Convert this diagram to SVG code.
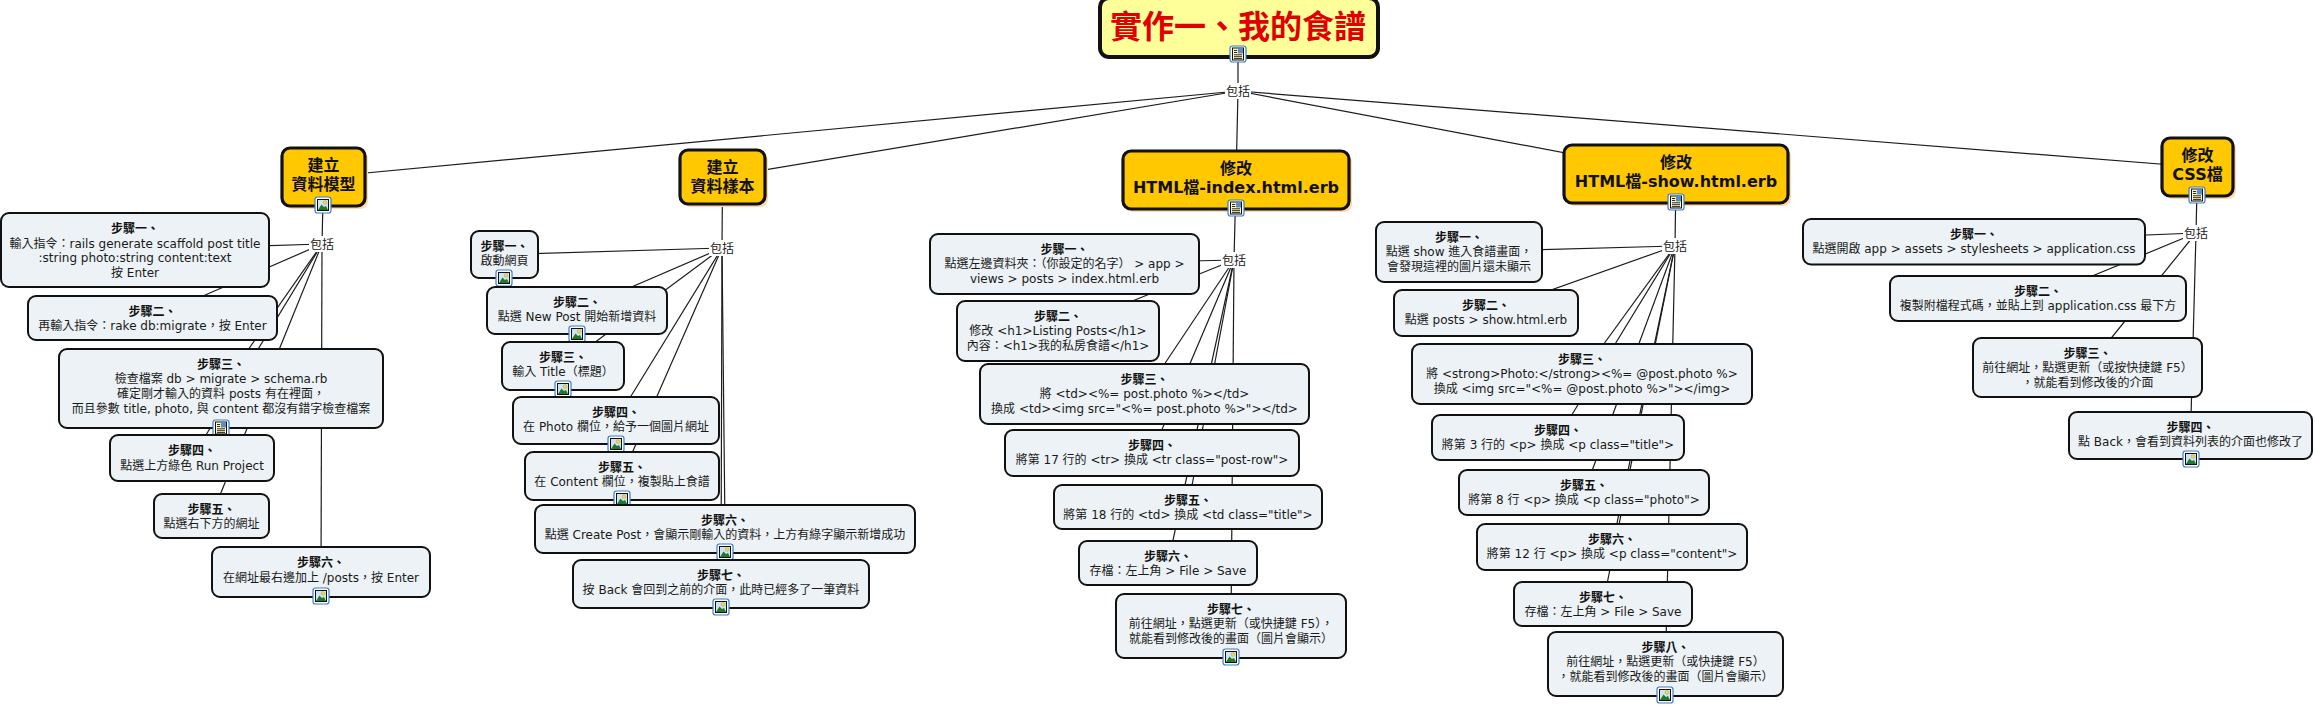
<svg xmlns="http://www.w3.org/2000/svg" width="2315" height="706" viewBox="0 0 2315 706">
<style>
text{font-family:"DejaVu Sans","Noto Sans CJK TC",sans-serif;text-anchor:middle;fill:#1a1a1a;font-size:12px}
.b{font-weight:bold;fill:#111}
.t{font-size:16px;font-weight:bold;fill:#111}
.root{font-size:32px;font-weight:bold;fill:#e00000}
.s{fill:#ecf2f5;stroke:#111;stroke-width:2}
.top{fill:#ffc800;stroke:#111;stroke-width:3.2}
.sh{fill:#ffd9b0}
.c line{stroke:#1c1c1c;stroke-width:1.2}
.lb{fill:#fff}
</style>
<defs>
<g id="pic"><rect x="-8" y="-8" width="16" height="16" rx="2.5" fill="#fff" stroke="#3d7cc9" stroke-width="1.2"/><rect x="-5.5" y="-5.5" width="11" height="11" fill="#cfe3f5" stroke="#111" stroke-width="1"/><circle cx="2" cy="-2.5" r="1.8" fill="#f7d94c" stroke="#a08820" stroke-width=".4"/><path d="M-5 5 L-1.5 -0.5 L1 2 L3 1 L5 5Z" fill="#1c7a2a"/></g>
<g id="doc"><rect x="-8" y="-8" width="16" height="16" rx="2.5" fill="#fff" stroke="#3d7cc9" stroke-width="1.2"/><rect x="-5.5" y="-6" width="11" height="12" fill="#fff8c8" stroke="#111" stroke-width="1"/><rect x="0" y="-5.5" width="5" height="5" fill="#5a8fc4"/><path d="M-4 -3.5H-.8M-4 -1.5H-.8M-4 .8H4M-4 2.7H4M-4 4.6H4" stroke="#111" stroke-width=".9" fill="none"/></g>
</defs>
<g id="connectors" class="c">
<line x1="1238" y1="28" x2="1238" y2="91"/>
<line x1="1238" y1="91" x2="323.5" y2="177"/>
<line x1="1238" y1="91" x2="722.5" y2="177"/>
<line x1="1238" y1="91" x2="1236" y2="180"/>
<line x1="1238" y1="91" x2="1676" y2="174"/>
<line x1="1238" y1="91" x2="2197.5" y2="167"/>
<line x1="323.5" y1="177" x2="322" y2="244"/>
<line x1="322" y1="244" x2="135" y2="250"/>
<line x1="322" y1="244" x2="152.5" y2="318"/>
<line x1="322" y1="244" x2="221" y2="388.5"/>
<line x1="322" y1="244" x2="192" y2="458"/>
<line x1="322" y1="244" x2="211.5" y2="516"/>
<line x1="322" y1="244" x2="321" y2="572"/>
<line x1="722.5" y1="177" x2="722" y2="248"/>
<line x1="722" y1="248" x2="504.5" y2="254.5"/>
<line x1="722" y1="248" x2="577" y2="310.5"/>
<line x1="722" y1="248" x2="563" y2="366"/>
<line x1="722" y1="248" x2="616" y2="420.5"/>
<line x1="722" y1="248" x2="622" y2="476"/>
<line x1="722" y1="248" x2="725" y2="529"/>
<line x1="722" y1="248" x2="721" y2="584"/>
<line x1="1236" y1="180" x2="1234" y2="260"/>
<line x1="1234" y1="260" x2="1064.5" y2="264"/>
<line x1="1234" y1="260" x2="1058" y2="331"/>
<line x1="1234" y1="260" x2="1144.5" y2="394"/>
<line x1="1234" y1="260" x2="1152" y2="453"/>
<line x1="1234" y1="260" x2="1188" y2="507"/>
<line x1="1234" y1="260" x2="1168" y2="563"/>
<line x1="1234" y1="260" x2="1231" y2="626"/>
<line x1="1676" y1="174" x2="1675" y2="246"/>
<line x1="1675" y1="246" x2="1459" y2="252"/>
<line x1="1675" y1="246" x2="1486" y2="313"/>
<line x1="1675" y1="246" x2="1582" y2="374"/>
<line x1="1675" y1="246" x2="1558" y2="437.5"/>
<line x1="1675" y1="246" x2="1584" y2="492.5"/>
<line x1="1675" y1="246" x2="1612" y2="547"/>
<line x1="1675" y1="246" x2="1603" y2="604"/>
<line x1="1675" y1="246" x2="1665.5" y2="664"/>
<line x1="2197.5" y1="167" x2="2196" y2="233"/>
<line x1="2196" y1="233" x2="1974" y2="242"/>
<line x1="2196" y1="233" x2="2038" y2="298.5"/>
<line x1="2196" y1="233" x2="2087.5" y2="367.5"/>
<line x1="2196" y1="233" x2="2190.5" y2="435.5"/>
<rect class="lb" x="1225" y="83" width="26" height="16"/><text x="1238" y="95.5">包括</text>
<rect class="lb" x="309" y="236" width="26" height="16"/><text x="322" y="248.5">包括</text>
<rect class="lb" x="709" y="240" width="26" height="16"/><text x="722" y="252.5">包括</text>
<rect class="lb" x="1221" y="252" width="26" height="16"/><text x="1234" y="264.5">包括</text>
<rect class="lb" x="1662" y="238" width="26" height="16"/><text x="1675" y="250.5">包括</text>
<rect class="lb" x="2183" y="225" width="26" height="16"/><text x="2196" y="237.5">包括</text>
</g>
<g id="root"><rect x="1100" y="-2" width="278" height="59" rx="9" fill="#ffff99" stroke="#111" stroke-width="4"/><text class="root" x="1238" y="38">實作一、我的食譜</text><use href="#doc" x="1238" y="54"/></g>
<g id="topicA"><rect class="sh" x="285" y="151" width="83" height="58" rx="8"/><rect class="top" x="282" y="148" width="83" height="58" rx="8"/><text class="t"><tspan x="323.5" y="171">建立</tspan><tspan x="323.5" y="190">資料模型</tspan></text><use href="#pic" x="323" y="205"/></g>
<g id="topicB"><rect class="sh" x="683" y="153" width="85" height="54" rx="8"/><rect class="top" x="680" y="150" width="85" height="54" rx="8"/><text class="t"><tspan x="722.5" y="173">建立</tspan><tspan x="722.5" y="192">資料樣本</tspan></text></g>
<g id="topicC"><rect class="sh" x="1126" y="154" width="226" height="58" rx="8"/><rect class="top" x="1123" y="151" width="226" height="58" rx="8"/><text class="t"><tspan x="1236" y="174">修改</tspan><tspan x="1236" y="193">HTML檔-index.html.erb</tspan></text><use href="#doc" x="1236" y="208"/></g>
<g id="topicD"><rect class="sh" x="1567" y="148" width="224" height="58" rx="8"/><rect class="top" x="1564" y="145" width="224" height="58" rx="8"/><text class="t"><tspan x="1676" y="168">修改</tspan><tspan x="1676" y="187">HTML檔-show.html.erb</tspan></text><use href="#doc" x="1676" y="202"/></g>
<g id="topicE"><rect class="sh" x="2165" y="141" width="71" height="58" rx="8"/><rect class="top" x="2162" y="138" width="71" height="58" rx="8"/><text class="t"><tspan x="2197.5" y="161">修改</tspan><tspan x="2197.5" y="180">CSS檔</tspan></text><use href="#doc" x="2197" y="195"/></g>

<g id="a1"><rect class="s" x="1" y="213" width="268" height="74" rx="8"/><text><tspan class="b" x="135" y="233">步驟一、</tspan><tspan x="135" y="247.7">輸入指令：rails generate scaffold post title</tspan><tspan x="135" y="262.4">:string photo:string content:text</tspan><tspan x="135" y="277">按 Enter</tspan></text></g>
<g id="a2"><rect class="s" x="28" y="296" width="249" height="44" rx="8"/><text><tspan class="b" x="152.5" y="315.5">步驟二、</tspan><tspan x="152.5" y="330.2">再輸入指令：rake db:migrate，按 Enter</tspan></text></g>
<g id="a3"><rect class="s" x="59" y="349" width="324" height="79" rx="8"/><text><tspan class="b" x="221" y="368.5">步驟三、</tspan><tspan x="221" y="383.2">檢查檔案 db &gt; migrate &gt; schema.rb</tspan><tspan x="221" y="397.9">確定剛才輸入的資料 posts 有在裡面，</tspan><tspan x="221" y="412.6">而且參數 title, photo, 與 content 都沒有錯字檢查檔案</tspan></text><use href="#doc" x="221" y="428"/></g>
<g id="a4"><rect class="s" x="110" y="435" width="164" height="46" rx="8"/><text><tspan class="b" x="192" y="455">步驟四、</tspan><tspan x="192" y="469.7">點選上方綠色 Run Project</tspan></text></g>
<g id="a5"><rect class="s" x="154" y="494" width="115" height="44" rx="8"/><text><tspan class="b" x="211.5" y="513.5">步驟五、</tspan><tspan x="211.5" y="528.2">點選右下方的網址</tspan></text></g>
<g id="a6"><rect class="s" x="212" y="547" width="218" height="50" rx="8"/><text><tspan class="b" x="321" y="567">步驟六、</tspan><tspan x="321" y="581.7">在網址最右邊加上 /posts，按 Enter</tspan></text><use href="#pic" x="321" y="596"/></g>

<g id="b1"><rect class="s" x="471" y="231" width="67" height="47" rx="8"/><text><tspan class="b" x="504.5" y="250.5">步驟一、</tspan><tspan x="504.5" y="265.2">啟動網頁</tspan></text><use href="#pic" x="504" y="278"/></g>
<g id="b2"><rect class="s" x="487" y="287" width="180" height="47" rx="8"/><text><tspan class="b" x="577" y="306.5">步驟二、</tspan><tspan x="577" y="321.2">點選 New Post 開始新增資料</tspan></text><use href="#pic" x="577" y="334"/></g>
<g id="b3"><rect class="s" x="502" y="342" width="122" height="48" rx="8"/><text><tspan class="b" x="563" y="361.5">步驟三、</tspan><tspan x="563" y="376.2">輸入 Title（標題）</tspan></text><use href="#pic" x="563" y="389"/></g>
<g id="b4"><rect class="s" x="513" y="397" width="206" height="47" rx="8"/><text><tspan class="b" x="616" y="416.5">步驟四、</tspan><tspan x="616" y="431.2">在 Photo 欄位，給予一個圖片網址</tspan></text><use href="#pic" x="616" y="444"/></g>
<g id="b5"><rect class="s" x="525" y="452" width="194" height="48" rx="8"/><text><tspan class="b" x="622" y="471.5">步驟五、</tspan><tspan x="622" y="486.2">在 Content 欄位，複製貼上食譜</tspan></text><use href="#pic" x="622" y="499"/></g>
<g id="b6"><rect class="s" x="535" y="505" width="380" height="48" rx="8"/><text><tspan class="b" x="725" y="524.5">步驟六、</tspan><tspan x="725" y="539.2">點選 Create Post，會顯示剛輸入的資料，上方有綠字顯示新增成功</tspan></text><use href="#pic" x="725" y="552"/></g>
<g id="b7"><rect class="s" x="573" y="560" width="296" height="48" rx="8"/><text><tspan class="b" x="721" y="579.5">步驟七、</tspan><tspan x="721" y="594.2">按 Back 會回到之前的介面，此時已經多了一筆資料</tspan></text><use href="#pic" x="721" y="607"/></g>

<g id="c1"><rect class="s" x="930" y="234" width="269" height="60" rx="8"/><text><tspan class="b" x="1064.5" y="253.5">步驟一、</tspan><tspan x="1064.5" y="268.2">點選左邊資料夾：（你設定的名字） &gt; app &gt;</tspan><tspan x="1064.5" y="282.9">views &gt; posts &gt; index.html.erb</tspan></text></g>
<g id="c2"><rect class="s" x="957" y="301" width="202" height="60" rx="8"/><text><tspan class="b" x="1058" y="320.5">步驟二、</tspan><tspan x="1058" y="335.2">修改 &lt;h1&gt;Listing Posts&lt;/h1&gt;</tspan><tspan x="1058" y="349.9">內容：&lt;h1&gt;我的私房食譜&lt;/h1&gt;</tspan></text></g>
<g id="c3"><rect class="s" x="980" y="364" width="329" height="60" rx="8"/><text><tspan class="b" x="1144.5" y="383.5">步驟三、</tspan><tspan x="1144.5" y="398.2">將 &lt;td&gt;&lt;%= post.photo %&gt;&lt;/td&gt;</tspan><tspan x="1144.5" y="412.9">換成 &lt;td&gt;&lt;img src="&lt;%= post.photo %&gt;"&gt;&lt;/td&gt;</tspan></text></g>
<g id="c4"><rect class="s" x="1005" y="430" width="294" height="46" rx="8"/><text><tspan class="b" x="1152" y="449.5">步驟四、</tspan><tspan x="1152" y="464.2">將第 17 行的 &lt;tr&gt; 換成 &lt;tr class="post-row"&gt;</tspan></text></g>
<g id="c5"><rect class="s" x="1054" y="485" width="268" height="44" rx="8"/><text><tspan class="b" x="1188" y="504.5">步驟五、</tspan><tspan x="1188" y="519.2">將第 18 行的 &lt;td&gt; 換成 &lt;td class="title"&gt;</tspan></text></g>
<g id="c6"><rect class="s" x="1079" y="541" width="178" height="44" rx="8"/><text><tspan class="b" x="1168" y="560.5">步驟六、</tspan><tspan x="1168" y="575.2">存檔：左上角 &gt; File &gt; Save</tspan></text></g>
<g id="c7"><rect class="s" x="1116" y="594" width="230" height="64" rx="8"/><text><tspan class="b" x="1231" y="613.5">步驟七、</tspan><tspan x="1231" y="628.2">前往網址，點選更新（或快捷鍵 F5），</tspan><tspan x="1231" y="642.9">就能看到修改後的畫面（圖片會顯示）</tspan></text><use href="#pic" x="1231" y="657"/></g>

<g id="d1"><rect class="s" x="1376" y="222" width="166" height="60" rx="8"/><text><tspan class="b" x="1459" y="241.5">步驟一、</tspan><tspan x="1459" y="256.2">點選 show 進入食譜畫面，</tspan><tspan x="1459" y="270.9">會發現這裡的圖片還未顯示</tspan></text></g>
<g id="d2"><rect class="s" x="1394" y="290" width="184" height="46" rx="8"/><text><tspan class="b" x="1486" y="309.5">步驟二、</tspan><tspan x="1486" y="324.2">點選 posts &gt; show.html.erb</tspan></text></g>
<g id="d3"><rect class="s" x="1412" y="344" width="340" height="60" rx="8"/><text><tspan class="b" x="1582" y="363.5">步驟三、</tspan><tspan x="1582" y="378.2">將 &lt;strong&gt;Photo:&lt;/strong&gt;&lt;%= @post.photo %&gt;</tspan><tspan x="1582" y="392.9">換成 &lt;img src="&lt;%= @post.photo %&gt;"&gt;&lt;/img&gt;</tspan></text></g>
<g id="d4"><rect class="s" x="1432" y="415" width="252" height="45" rx="8"/><text><tspan class="b" x="1558" y="434.5">步驟四、</tspan><tspan x="1558" y="449.2">將第 3 行的 &lt;p&gt; 換成 &lt;p class="title"&gt;</tspan></text></g>
<g id="d5"><rect class="s" x="1459" y="470" width="250" height="45" rx="8"/><text><tspan class="b" x="1584" y="489.5">步驟五、</tspan><tspan x="1584" y="504.2">將第 8 行 &lt;p&gt; 換成 &lt;p class="photo"&gt;</tspan></text></g>
<g id="d6"><rect class="s" x="1477" y="524" width="270" height="46" rx="8"/><text><tspan class="b" x="1612" y="543.5">步驟六、</tspan><tspan x="1612" y="558.2">將第 12 行 &lt;p&gt; 換成 &lt;p class="content"&gt;</tspan></text></g>
<g id="d7"><rect class="s" x="1514" y="582" width="178" height="44" rx="8"/><text><tspan class="b" x="1603" y="601.5">步驟七、</tspan><tspan x="1603" y="616.2">存檔：左上角 &gt; File &gt; Save</tspan></text></g>
<g id="d8"><rect class="s" x="1548" y="632" width="235" height="64" rx="8"/><text><tspan class="b" x="1665.5" y="651.5">步驟八、</tspan><tspan x="1665.5" y="666.2">前往網址，點選更新（或快捷鍵 F5）</tspan><tspan x="1665.5" y="680.9">，就能看到修改後的畫面（圖片會顯示）</tspan></text><use href="#pic" x="1665" y="695"/></g>

<g id="e1"><rect class="s" x="1803" y="219" width="342" height="45.5" rx="8"/><text><tspan class="b" x="1974" y="238.5">步驟一、</tspan><tspan x="1974" y="253.2">點選開啟 app &gt; assets &gt; stylesheets &gt; application.css</tspan></text></g>
<g id="e2"><rect class="s" x="1890" y="276" width="296" height="45" rx="8"/><text><tspan class="b" x="2038" y="295.5">步驟二、</tspan><tspan x="2038" y="310.2">複製附檔程式碼，並貼上到 application.css 最下方</tspan></text></g>
<g id="e3"><rect class="s" x="1973" y="338" width="229" height="59" rx="8"/><text><tspan class="b" x="2087.5" y="357.5">步驟三、</tspan><tspan x="2087.5" y="372.2">前往網址，點選更新（或按快捷鍵 F5）</tspan><tspan x="2087.5" y="386.9">，就能看到修改後的介面</tspan></text></g>
<g id="e4"><rect class="s" x="2069" y="412" width="243" height="47" rx="8"/><text><tspan class="b" x="2190.5" y="431.5">步驟四、</tspan><tspan x="2190.5" y="446.2">點 Back，會看到資料列表的介面也修改了</tspan></text><use href="#pic" x="2191" y="459"/></g>
</svg>
